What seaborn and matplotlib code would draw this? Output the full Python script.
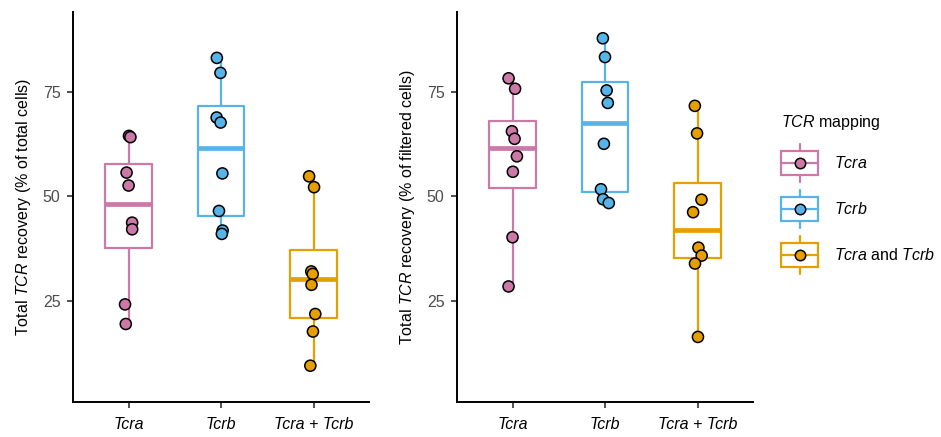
import numpy as np
import pandas as pd
import matplotlib
matplotlib.use("Agg")
import matplotlib.pyplot as plt
from matplotlib.patches import Rectangle
from matplotlib.lines import Line2D
from matplotlib.legend_handler import HandlerBase
import seaborn as sns

# categories and values
categories = ["Tcra", "Tcrb", "Tcra + Tcrb"]
legend_labels = [r"$\it{Tcra}$", r"$\it{Tcrb}$", r"$\it{Tcra}$ and $\it{Tcrb}$"]
colors = ["#CC79A7", "#56B4E9", "#E69F00"]

# % of total cells
total_tcra = [64.5, 64.2, 55.7, 52.6, 43.7, 42.1, 24.1, 19.4]
total_tcrb = [83.2, 79.6, 68.9, 67.7, 55.5, 46.5, 41.8, 41.0]
total_both = [54.8, 52.2, 32.0, 31.4, 28.8, 21.8, 17.6, 9.4]

# % of filtered cells
filt_tcra = [78.3, 75.8, 65.6, 63.8, 59.6, 55.9, 40.2, 28.4]
filt_tcrb = [87.9, 83.4, 75.4, 72.4, 62.6, 51.7, 49.3, 48.4]
filt_both = [71.7, 65.1, 49.2, 46.2, 37.7, 35.8, 33.9, 16.3]


def make_df(a, b, c):
    rows = []
    for cat, vals in zip(categories, [a, b, c]):
        for v in vals:
            rows.append({"mapping": cat, "value": v})
    return pd.DataFrame(rows)


df_total = make_df(total_tcra, total_tcrb, total_both)
df_filt = make_df(filt_tcra, filt_tcrb, filt_both)

sns.set_theme(style="ticks")
plt.rcParams["font.family"] = ["Liberation Sans", "DejaVu Sans"]
plt.rcParams["mathtext.fontset"] = "custom"
plt.rcParams["mathtext.rm"] = "Liberation Sans"
plt.rcParams["mathtext.it"] = "Liberation Sans:italic"
plt.rcParams["text.color"] = "black"
plt.rcParams["axes.labelcolor"] = "black"

FS = 11.5

fig = plt.figure(figsize=(9.41, 4.37), dpi=100)
ax1 = fig.add_axes([73 / 941, 35 / 437, 296 / 941, 390 / 437])
ax2 = fig.add_axes([457 / 941, 35 / 437, 296 / 941, 390 / 437])

palette = dict(zip(categories, colors))


def draw_panel(ax, df, ylabel, seed):
    sns.boxplot(data=df, x="mapping", y="value", hue="mapping", order=categories,
                palette=palette, fill=False, width=0.5, linewidth=1.6,
                showcaps=False, showfliers=False, legend=False, ax=ax)
    # thicker median bars, like ggplot (the only horizontal 2-point lines)
    for ln in ax.lines:
        xd, yd = ln.get_xdata(), ln.get_ydata()
        if len(yd) == 2 and yd[0] == yd[1] and xd[0] != xd[1]:
            ln.set_linewidth(3.4)
            ln.set_solid_capstyle("butt")
    np.random.seed(seed)
    sns.stripplot(data=df, x="mapping", y="value", hue="mapping", order=categories,
                  palette=palette, jitter=0.05, size=8, edgecolor="black",
                  linewidth=1.1, legend=False, zorder=5, ax=ax)
    ax.set_xlim(-0.6, 2.6)
    ax.set_ylim(0.7, 94.2)
    ax.set_yticks([25, 50, 75])
    ax.set_xlabel("")
    ax.set_ylabel(ylabel, fontsize=FS, color="black", labelpad=7)
    for side in ["top", "right"]:
        ax.spines[side].set_visible(False)
    for side in ["left", "bottom"]:
        ax.spines[side].set_linewidth(1.4)
        ax.spines[side].set_color("black")
    ax.tick_params(axis="both", length=4.5, width=1.2, color="#333333")
    ax.tick_params(axis="y", labelsize=FS, labelcolor="#4D4D4D", pad=4.5)
    ax.tick_params(axis="x", labelsize=FS, labelcolor="black", pad=6)
    for lbl in ax.get_xticklabels():
        lbl.set_fontstyle("italic")


draw_panel(ax1, df_total, r"Total $\it{TCR}$ recovery (% of total cells)", 3)
draw_panel(ax2, df_filt, r"Total $\it{TCR}$ recovery (% of filtered cells)", 7)


class BoxKeyHandler(HandlerBase):
    def create_artists(self, legend, orig_handle, xdescent, ydescent, width, height,
                       fontsize, trans):
        c = orig_handle.get_color()
        cx = -xdescent + width / 2
        cy = -ydescent + height / 2
        bh = height * 0.63
        box = Rectangle((-xdescent, cy - bh / 2), width, bh, facecolor="white",
                        edgecolor=c, linewidth=1.6, transform=trans)
        whisk = Line2D([cx, cx], [-ydescent, -ydescent + height], color=c,
                       linewidth=1.6, transform=trans)
        med = Line2D([-xdescent, -xdescent + width], [cy, cy], color=c,
                     linewidth=1.6, transform=trans)
        dot = Line2D([cx], [cy], marker="o", markersize=7.5, markerfacecolor=c,
                     markeredgecolor="black", markeredgewidth=1.1, linestyle="",
                     transform=trans)
        return [whisk, box, med, dot]


handles = [Line2D([], [], color=c) for c in colors]
leg = fig.legend(handles, legend_labels, handler_map={Line2D: BoxKeyHandler()},
                 loc="upper left", bbox_to_anchor=(778 / 941, 1 - 110 / 437),
                 frameon=False, fontsize=FS, title=r"$\it{TCR}$ mapping",
                 title_fontsize=FS, handlelength=2.3, handleheight=3.28,
                 labelspacing=0.5, handletextpad=1.0, alignment="left",
                 borderaxespad=0, borderpad=0.2, labelcolor="black")
# a little more room between the title and the first key
leg._legend_box.sep += 3

fig.savefig("out.png", dpi=100)
